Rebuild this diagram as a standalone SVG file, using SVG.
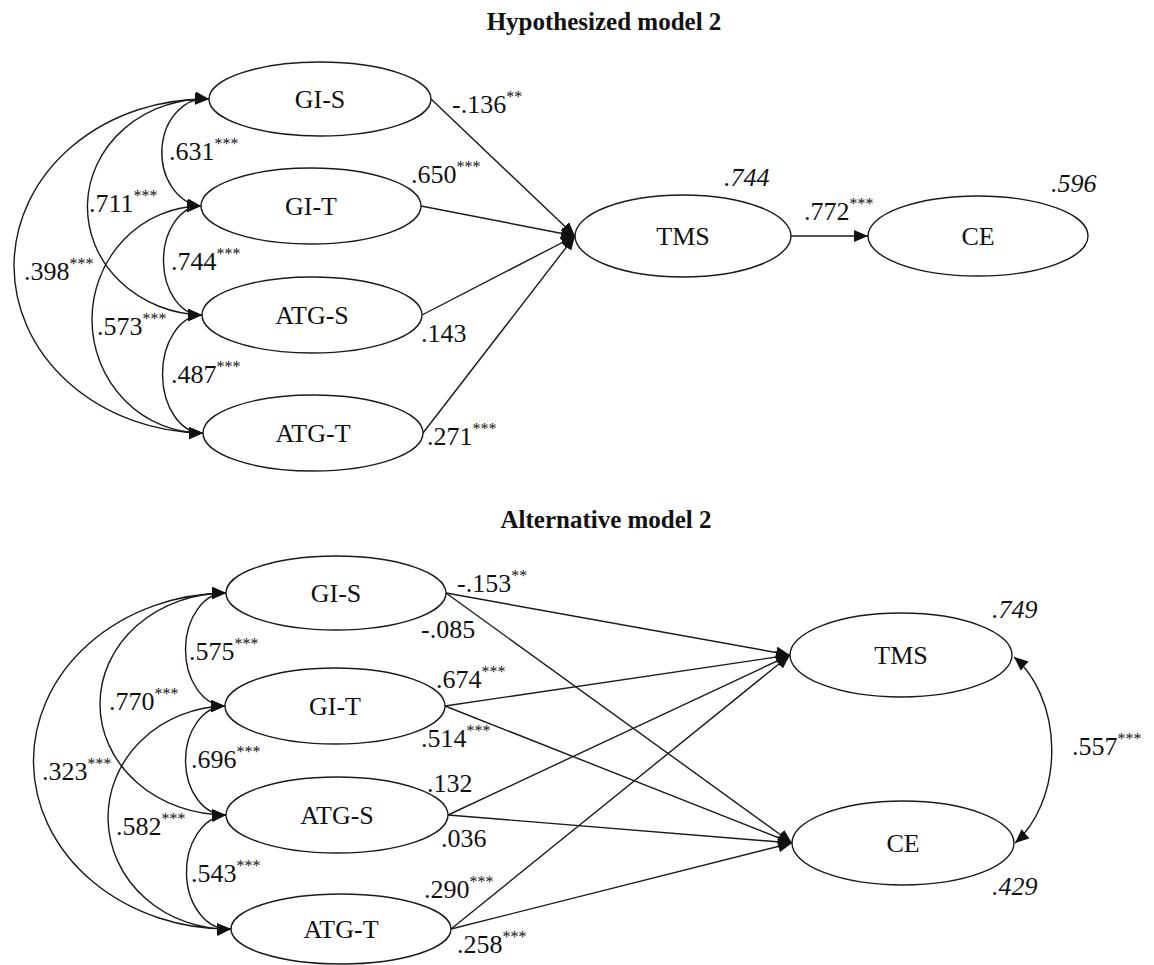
<svg xmlns="http://www.w3.org/2000/svg" width="1154" height="965" viewBox="0 0 1154 965">
<style>
text{font-family:"Liberation Serif","Times New Roman",serif;fill:#111}
.t{font-size:25px;font-weight:bold;text-anchor:middle}
.n{font-size:26px;text-anchor:middle}
.c{font-size:26px}
.i{font-size:26px;font-style:italic}
.s{font-size:16px}
ellipse{fill:#fff;stroke:#1a1a1a;stroke-width:1.4}
.e path,.e line{fill:none;stroke:#1a1a1a;stroke-width:1.4}
.a{marker-end:url(#ah)}
.b{marker-start:url(#ah);marker-end:url(#ah)}
</style>
<defs>
<marker id="ah" markerUnits="userSpaceOnUse" markerWidth="15" markerHeight="13" refX="14" refY="6" orient="auto-start-reverse">
<path d="M0,0 L14,6 L0,12 z" fill="#111"/>
</marker>
</defs>
<rect width="1154" height="965" fill="#fff"/>
<text class="t" x="604" y="30">Hypothesized model 2</text>
<text class="t" x="606" y="528">Alternative model 2</text>

<g id="connectors" class="e">
<path class="b" d="M209,99 A43,53.5 0 0 0 201,206"/>
<path class="b" d="M209,99 A118,108 0 0 0 202,315"/>
<path class="b" d="M209,99 A192,167 0 0 0 203,433"/>
<path class="b" d="M201,206 A38,54.5 0 0 0 202,315"/>
<path class="b" d="M201,206 A110,113.5 0 0 0 203,433"/>
<path class="b" d="M202,315 A40,59 0 0 0 203,433"/>
<line class="a" x1="431" y1="99" x2="575" y2="236"/>
<line class="a" x1="421" y1="206" x2="575" y2="236"/>
<line class="a" x1="422" y1="315" x2="575" y2="236"/>
<line class="a" x1="423" y1="433" x2="575" y2="236"/>
<line class="a" x1="791" y1="236" x2="868" y2="236"/>
<path class="b" d="M226,593 A40,56.5 0 0 0 225,706"/>
<path class="b" d="M226,593 A126,111 0 0 0 226,815"/>
<path class="b" d="M226,593 A195,168 0 0 0 231,929"/>
<path class="b" d="M225,706 A40,54.5 0 0 0 226,815"/>
<path class="b" d="M225,706 A120,111.5 0 0 0 231,929"/>
<path class="b" d="M226,815 A42,57 0 0 0 231,929"/>
<line class="a" x1="446" y1="593" x2="790" y2="655"/>
<line class="a" x1="446" y1="593" x2="792" y2="843"/>
<line class="a" x1="445" y1="706" x2="790" y2="655"/>
<line class="a" x1="445" y1="706" x2="792" y2="843"/>
<line class="a" x1="448" y1="815" x2="790" y2="655"/>
<line class="a" x1="448" y1="815" x2="792" y2="843"/>
<line class="a" x1="451" y1="929" x2="790" y2="655"/>
<line class="a" x1="451" y1="929" x2="792" y2="843"/>
<path class="b" d="M1014,657 A80,110 0 0 1 1015,843"/>
</g>

<g id="labels">
<text class="c" x="169" y="160">.631<tspan class="s" dy="-11">***</tspan></text>
<text class="c" x="89" y="212">.711<tspan class="s" dy="-11">***</tspan></text>
<text class="c" x="24" y="280">.398<tspan class="s" dy="-11">***</tspan></text>
<text class="c" x="171" y="270">.744<tspan class="s" dy="-11">***</tspan></text>
<text class="c" x="97" y="335">.573<tspan class="s" dy="-11">***</tspan></text>
<text class="c" x="171" y="383">.487<tspan class="s" dy="-11">***</tspan></text>
<text class="c" x="452" y="113">-.136<tspan class="s" dy="-11">**</tspan></text>
<text class="c" x="411" y="183">.650<tspan class="s" dy="-11">***</tspan></text>
<text class="c" x="421" y="342">.143</text>
<text class="c" x="427" y="445">.271<tspan class="s" dy="-11">***</tspan></text>
<text class="i" x="724" y="186">.744</text>
<text class="i" x="1051" y="192">.596</text>
<text class="c" x="804" y="220">.772<tspan class="s" dy="-11">***</tspan></text>

<text class="c" x="189" y="660">.575<tspan class="s" dy="-11">***</tspan></text>
<text class="c" x="109" y="710">.770<tspan class="s" dy="-11">***</tspan></text>
<text class="c" x="42" y="780">.323<tspan class="s" dy="-11">***</tspan></text>
<text class="c" x="191" y="768">.696<tspan class="s" dy="-11">***</tspan></text>
<text class="c" x="116" y="835">.582<tspan class="s" dy="-11">***</tspan></text>
<text class="c" x="191" y="882">.543<tspan class="s" dy="-11">***</tspan></text>
<text class="c" x="457" y="592">-.153<tspan class="s" dy="-11">**</tspan></text>
<text class="c" x="421" y="638">-.085</text>
<text class="c" x="436" y="688">.674<tspan class="s" dy="-11">***</tspan></text>
<text class="c" x="421" y="747">.514<tspan class="s" dy="-11">***</tspan></text>
<text class="c" x="427" y="792">.132</text>
<text class="c" x="441" y="847">.036</text>
<text class="c" x="424" y="898">.290<tspan class="s" dy="-11">***</tspan></text>
<text class="c" x="457" y="953">.258<tspan class="s" dy="-11">***</tspan></text>
<text class="i" x="992" y="618">.749</text>
<text class="i" x="992" y="895">.429</text>
<text class="c" x="1072" y="755">.557<tspan class="s" dy="-11">***</tspan></text>
</g>

<g id="h-gis"><ellipse cx="320" cy="99" rx="111" ry="37"/><text class="n" x="320" y="108">GI-S</text></g>
<g id="h-git"><ellipse cx="311" cy="206" rx="110" ry="38"/><text class="n" x="311" y="215">GI-T</text></g>
<g id="h-atgs"><ellipse cx="312" cy="315" rx="110" ry="38"/><text class="n" x="312" y="324">ATG-S</text></g>
<g id="h-atgt"><ellipse cx="313" cy="433" rx="110" ry="38"/><text class="n" x="313" y="442">ATG-T</text></g>
<g id="h-tms"><ellipse cx="683" cy="236" rx="108" ry="41"/><text class="n" x="683" y="245">TMS</text></g>
<g id="h-ce"><ellipse cx="978" cy="236" rx="110" ry="40"/><text class="n" x="978" y="245">CE</text></g>

<g id="a-gis"><ellipse cx="336" cy="593" rx="110" ry="37"/><text class="n" x="336" y="602">GI-S</text></g>
<g id="a-git"><ellipse cx="335" cy="706" rx="110" ry="38"/><text class="n" x="335" y="715">GI-T</text></g>
<g id="a-atgs"><ellipse cx="337" cy="815" rx="111" ry="38"/><text class="n" x="337" y="824">ATG-S</text></g>
<g id="a-atgt"><ellipse cx="341" cy="929" rx="110" ry="35"/><text class="n" x="341" y="938">ATG-T</text></g>
<g id="a-tms"><ellipse cx="901" cy="655" rx="111" ry="42"/><text class="n" x="901" y="664">TMS</text></g>
<g id="a-ce"><ellipse cx="903" cy="843" rx="111" ry="42"/><text class="n" x="903" y="852">CE</text></g>
</svg>
